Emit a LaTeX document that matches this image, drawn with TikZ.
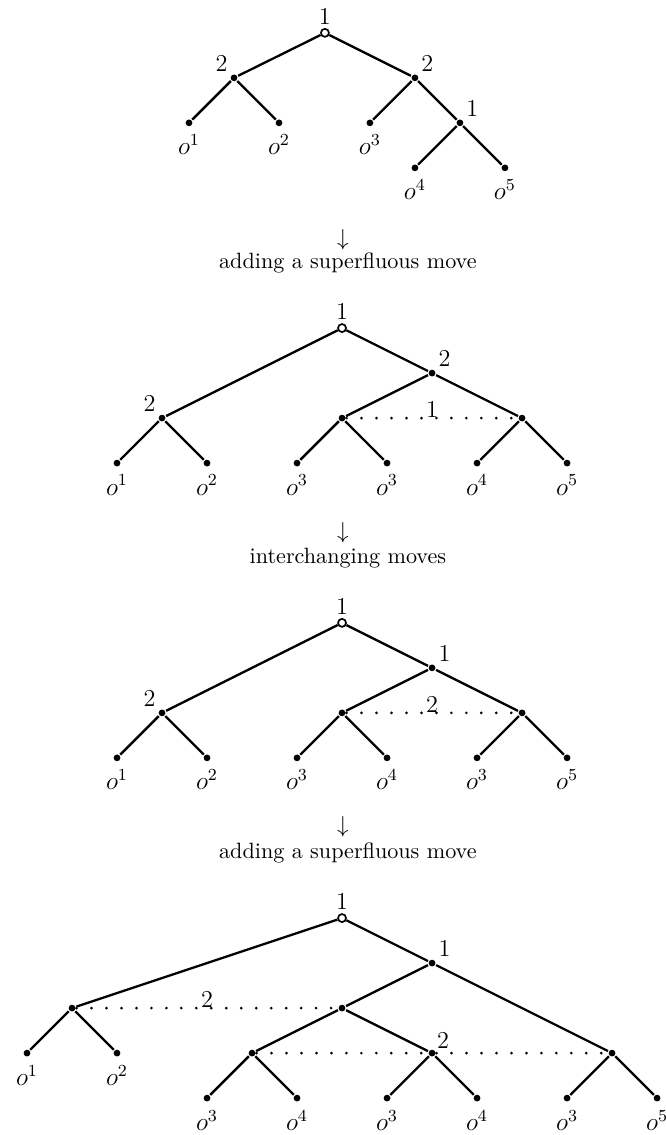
\documentclass[tikz,border=0pt]{standalone}
\usepackage{amsmath,amssymb}
\usepackage{tikz}

\begin{document}
\begin{tikzpicture}[x=0.75cm,y=0.75cm,line width=1.1pt,font=\fontsize{10.5}{12.6}\selectfont,
  dec/.style={circle,fill,inner sep=0pt,minimum size=3.2pt},
  start/.style={circle,draw,fill=white,line width=0.8pt,inner sep=0pt,minimum size=3.8pt},
  lab/.style={inner sep=1pt,font=\fontsize{11.5}{13.5}\selectfont},
  outc/.style={label={[lab,label distance=2pt]below:$#1$}},
  info/.style={line width=1.4pt,line cap=round,dash pattern=on 0pt off 7.1pt},
  ilab/.style={midway,above,inner sep=0pt,yshift=-0.6pt,font=\fontsize{11.5}{13.5}\selectfont},
  note/.style={inner sep=1pt}]
\useasboundingbox (0,0) rectangle (14.78,-25.22);

\node[start,label={[lab]above:1}] (t1r) at (7.22,-0.73) {};
\node[dec,label={[lab]above left:2}] (t1a) at (5.20,-1.73) {};
\node[dec,label={[lab]above right:2}] (t1b) at (9.22,-1.73) {};
\node[dec,label={[lab]above right:1}] (t1c) at (10.22,-2.73) {};
\node[dec,outc={o^{1}}] (t1l1) at (4.20,-2.73) {};
\node[dec,outc={o^{2}}] (t1l2) at (6.20,-2.73) {};
\node[dec,outc={o^{3}}] (t1l3) at (8.22,-2.73) {};
\node[dec,outc={o^{4}}] (t1l4) at (9.22,-3.73) {};
\node[dec,outc={o^{5}}] (t1l5) at (11.22,-3.73) {};
\draw (t1r) -- (t1a);
\draw (t1r) -- (t1b);
\draw (t1a) -- (t1l1);
\draw (t1a) -- (t1l2);
\draw (t1b) -- (t1l3);
\draw (t1b) -- (t1c);
\draw (t1c) -- (t1l4);
\draw (t1c) -- (t1l5);

\node (d1) at (7.62,-5.33) {$\downarrow$};
\node[note] (n1) at (7.73,-5.84) {adding a superfluous move};

\node[start,label={[lab]above:1}] (t2r) at (7.60,-7.29) {};
\node[dec,label={[lab]above right:2}] (t2b) at (9.60,-8.29) {};
\node[dec,label={[lab]above left:2}] (t2a) at (3.60,-9.29) {};
\node[dec] (t2c) at (7.60,-9.29) {};
\node[dec] (t2d) at (11.60,-9.29) {};
\node[dec,outc={o^{1}}] (t2l1) at (2.60,-10.29) {};
\node[dec,outc={o^{2}}] (t2l2) at (4.60,-10.29) {};
\node[dec,outc={o^{3}}] (t2l3) at (6.60,-10.29) {};
\node[dec,outc={o^{3}}] (t2l4) at (8.60,-10.29) {};
\node[dec,outc={o^{4}}] (t2l5) at (10.60,-10.29) {};
\node[dec,outc={o^{5}}] (t2l6) at (12.60,-10.29) {};
\draw (t2r) -- (t2a);
\draw (t2r) -- (t2b);
\draw (t2b) -- (t2c);
\draw (t2b) -- (t2d);
\draw (t2a) -- (t2l1);
\draw (t2a) -- (t2l2);
\draw (t2c) -- (t2l3);
\draw (t2c) -- (t2l4);
\draw (t2d) -- (t2l5);
\draw (t2d) -- (t2l6);
\draw[info] (t2c) -- node[ilab] {1} (t2d);

\node (d2) at (7.62,-11.84) {$\downarrow$};
\node[note] (n2) at (7.73,-12.40) {interchanging moves};

\node[start,label={[lab]above:1}] (t3r) at (7.60,-13.84) {};
\node[dec,label={[lab]above right:1}] (t3b) at (9.60,-14.84) {};
\node[dec,label={[lab]above left:2}] (t3a) at (3.60,-15.84) {};
\node[dec] (t3c) at (7.60,-15.84) {};
\node[dec] (t3d) at (11.60,-15.84) {};
\node[dec,outc={o^{1}}] (t3l1) at (2.60,-16.84) {};
\node[dec,outc={o^{2}}] (t3l2) at (4.60,-16.84) {};
\node[dec,outc={o^{3}}] (t3l3) at (6.60,-16.84) {};
\node[dec,outc={o^{4}}] (t3l4) at (8.60,-16.84) {};
\node[dec,outc={o^{3}}] (t3l5) at (10.60,-16.84) {};
\node[dec,outc={o^{5}}] (t3l6) at (12.60,-16.84) {};
\draw (t3r) -- (t3a);
\draw (t3r) -- (t3b);
\draw (t3b) -- (t3c);
\draw (t3b) -- (t3d);
\draw (t3a) -- (t3l1);
\draw (t3a) -- (t3l2);
\draw (t3c) -- (t3l3);
\draw (t3c) -- (t3l4);
\draw (t3d) -- (t3l5);
\draw (t3d) -- (t3l6);
\draw[info] (t3c) -- node[ilab] {2} (t3d);

\node (d3) at (7.62,-18.38) {$\downarrow$};
\node[note] (n3) at (7.73,-18.96) {adding a superfluous move};

\node[start,label={[lab]above:1}] (t4r) at (7.60,-20.40) {};
\node[dec,label={[lab]above right:1}] (t4b) at (9.60,-21.40) {};
\node[dec] (t4a) at (1.60,-22.40) {};
\node[dec] (t4c) at (7.60,-22.40) {};
\node[dec] (t4d) at (5.60,-23.40) {};
\node[dec,label={[lab,label distance=-1pt]above right:2}] (t4e) at (9.60,-23.40) {};
\node[dec] (t4f) at (13.60,-23.40) {};
\node[dec,outc={o^{1}}] (t4l1) at (0.60,-23.40) {};
\node[dec,outc={o^{2}}] (t4l2) at (2.60,-23.40) {};
\node[dec,outc={o^{3}}] (t4l3) at (4.60,-24.40) {};
\node[dec,outc={o^{4}}] (t4l4) at (6.60,-24.40) {};
\node[dec,outc={o^{3}}] (t4l5) at (8.60,-24.40) {};
\node[dec,outc={o^{4}}] (t4l6) at (10.60,-24.40) {};
\node[dec,outc={o^{3}}] (t4l7) at (12.60,-24.40) {};
\node[dec,outc={o^{5}}] (t4l8) at (14.60,-24.40) {};
\draw (t4r) -- (t4a);
\draw (t4r) -- (t4b);
\draw (t4b) -- (t4c);
\draw (t4b) -- (t4f);
\draw (t4c) -- (t4d);
\draw (t4c) -- (t4e);
\draw (t4a) -- (t4l1);
\draw (t4a) -- (t4l2);
\draw (t4d) -- (t4l3);
\draw (t4d) -- (t4l4);
\draw (t4e) -- (t4l5);
\draw (t4e) -- (t4l6);
\draw (t4f) -- (t4l7);
\draw (t4f) -- (t4l8);
\draw[info] (t4a) -- node[ilab] {2} (t4c);
\draw[info] (t4d) -- (t4e) -- (t4f);
\end{tikzpicture}
\end{document}
